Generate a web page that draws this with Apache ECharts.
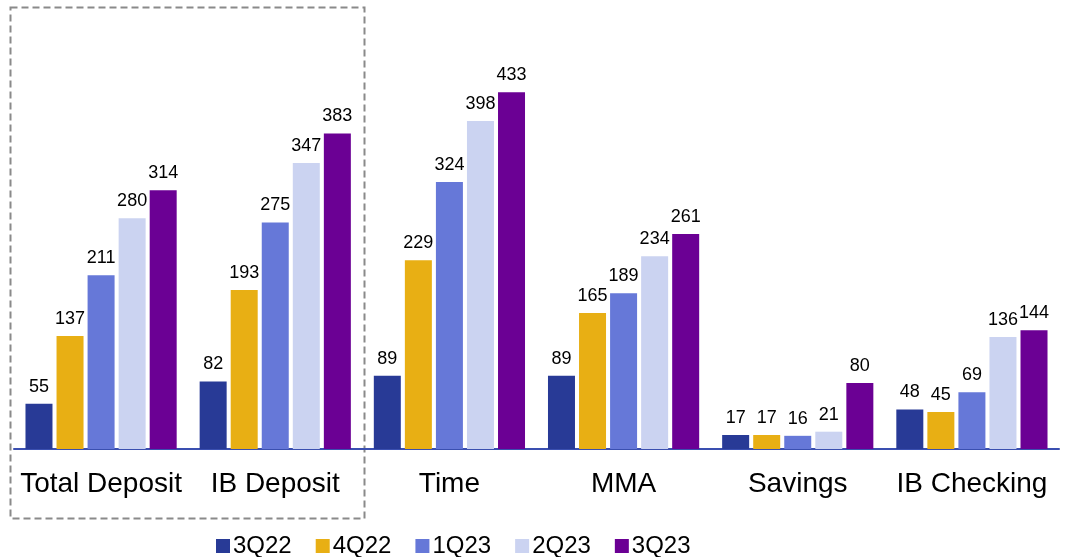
<!DOCTYPE html>
<html>
<head>
<meta charset="utf-8">
<script src="https://cdn.jsdelivr.net/npm/echarts@6/dist/echarts.min.js"></script>
<style>html,body{margin:0;padding:0;background:#fff}#c{width:1076px;height:557px}</style>
</head>
<body>
<div id="c"></div>
<script>
const categories = ['Total Deposit', 'IB Deposit', 'Time', 'MMA', 'Savings', 'IB Checking'];
const seriesNames = ['3Q22', '4Q22', '1Q23', '2Q23', '3Q23'];
const s3Q22 = [55, 82, 89, 89, 17, 48];
const s4Q22 = [137, 193, 229, 165, 17, 45];
const s1Q23 = [211, 275, 324, 189, 16, 69];
const s2Q23 = [280, 347, 398, 234, 21, 136];
const s3Q23 = [314, 383, 433, 261, 80, 144];
const seriesData = [s3Q22, s4Q22, s1Q23, s2Q23, s3Q23];
const colors = ['#283A96', '#E8AF14', '#6678D8', '#CBD3F1', '#6B0094'];

const chart = echarts.init(document.getElementById('c'));
const font = 'Liberation Sans, Arial, sans-serif';
chart.setOption({
  animation: false,
  textStyle: { fontFamily: font },
  grid: { left: 14, right: 17, top: 37, bottom: 108 },
  legend: {
    left: 211, top: 529,
    itemWidth: 14, itemHeight: 14, itemGap: 24,
    icon: 'rect',
    textStyle: { fontSize: 24, color: '#000', fontFamily: font, padding: [0, 0, 0, -2] },
    data: seriesNames
  },
  xAxis: {
    type: 'category',
    data: categories,
    axisLine: { lineStyle: { color: '#3A4FB0', width: 2 } },
    axisTick: { show: false },
    axisLabel: { interval: 0, fontSize: 28, color: '#000', margin: 21, fontFamily: font }
  },
  yAxis: { type: 'value', min: 0, max: 500, show: false, splitLine: { show: false } },
  series: seriesNames.map((n, i) => ({
    name: n,
    type: 'bar',
    data: seriesData[i],
    barWidth: 27,
    barGap: '15%',
    itemStyle: { color: colors[i] },
    label: { show: true, position: 'top', distance: 8, fontSize: 18, color: '#000', fontFamily: font }
  })),
  graphic: [{
    type: 'rect',
    shape: { x: 10.5, y: 7.5, width: 354, height: 511 },
    style: { fill: 'none', stroke: '#8a8a8a', lineWidth: 2, lineDash: [7, 4] },
    silent: true
  }]
});
</script>
</body>
</html>
